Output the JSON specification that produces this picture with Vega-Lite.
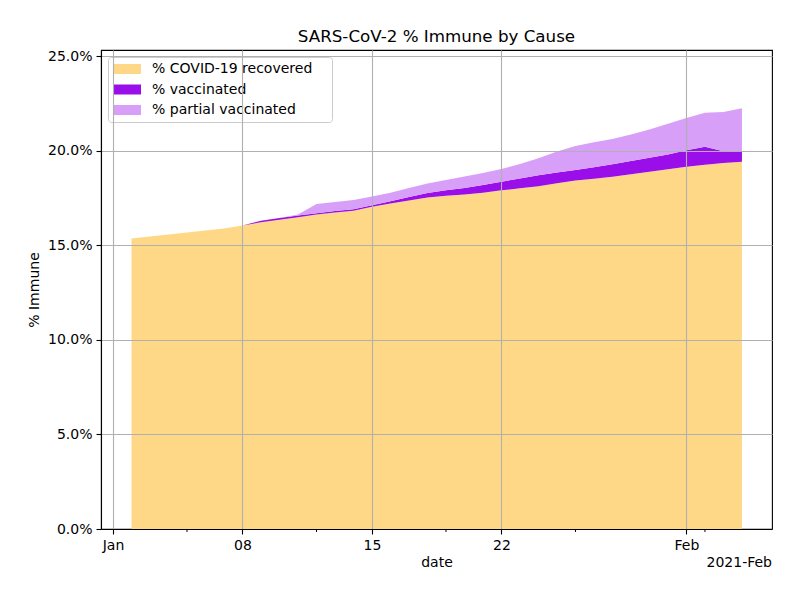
{
  "$schema": "https://vega.github.io/schema/vega-lite/v6.json",
  "width": 671,
  "height": 479,
  "autosize": {"type": "none"},
  "padding": {"left": 101, "top": 50, "right": 28, "bottom": 71},
  "background": "white",
  "config": {
    "font": "DejaVu Sans",
    "view": {"stroke": "black", "strokeWidth": 1.1}
  },
  "title": {
    "text": "SARS-CoV-2 % Immune by Cause",
    "fontSize": 16.7,
    "fontWeight": "normal",
    "color": "black",
    "offset": 3
  },
  "layer": [
    {
      "data": {
        "values": [
          {"date": "2021-01-02", "cause": "% COVID-19 recovered", "pct": 15.36},
          {"date": "2021-01-03", "cause": "% COVID-19 recovered", "pct": 15.46},
          {"date": "2021-01-04", "cause": "% COVID-19 recovered", "pct": 15.57},
          {"date": "2021-01-05", "cause": "% COVID-19 recovered", "pct": 15.67},
          {"date": "2021-01-06", "cause": "% COVID-19 recovered", "pct": 15.78},
          {"date": "2021-01-07", "cause": "% COVID-19 recovered", "pct": 15.88},
          {"date": "2021-01-08", "cause": "% COVID-19 recovered", "pct": 16.04},
          {"date": "2021-01-09", "cause": "% COVID-19 recovered", "pct": 16.21},
          {"date": "2021-01-10", "cause": "% COVID-19 recovered", "pct": 16.35},
          {"date": "2021-01-11", "cause": "% COVID-19 recovered", "pct": 16.48},
          {"date": "2021-01-12", "cause": "% COVID-19 recovered", "pct": 16.62},
          {"date": "2021-01-13", "cause": "% COVID-19 recovered", "pct": 16.73},
          {"date": "2021-01-14", "cause": "% COVID-19 recovered", "pct": 16.82},
          {"date": "2021-01-15", "cause": "% COVID-19 recovered", "pct": 17.03},
          {"date": "2021-01-16", "cause": "% COVID-19 recovered", "pct": 17.21},
          {"date": "2021-01-17", "cause": "% COVID-19 recovered", "pct": 17.37},
          {"date": "2021-01-18", "cause": "% COVID-19 recovered", "pct": 17.52},
          {"date": "2021-01-19", "cause": "% COVID-19 recovered", "pct": 17.62},
          {"date": "2021-01-20", "cause": "% COVID-19 recovered", "pct": 17.68},
          {"date": "2021-01-21", "cause": "% COVID-19 recovered", "pct": 17.77},
          {"date": "2021-01-22", "cause": "% COVID-19 recovered", "pct": 17.90},
          {"date": "2021-01-23", "cause": "% COVID-19 recovered", "pct": 18.01},
          {"date": "2021-01-24", "cause": "% COVID-19 recovered", "pct": 18.12},
          {"date": "2021-01-25", "cause": "% COVID-19 recovered", "pct": 18.28},
          {"date": "2021-01-26", "cause": "% COVID-19 recovered", "pct": 18.42},
          {"date": "2021-01-27", "cause": "% COVID-19 recovered", "pct": 18.52},
          {"date": "2021-01-28", "cause": "% COVID-19 recovered", "pct": 18.62},
          {"date": "2021-01-29", "cause": "% COVID-19 recovered", "pct": 18.75},
          {"date": "2021-01-30", "cause": "% COVID-19 recovered", "pct": 18.88},
          {"date": "2021-01-31", "cause": "% COVID-19 recovered", "pct": 19.01},
          {"date": "2021-02-01", "cause": "% COVID-19 recovered", "pct": 19.15},
          {"date": "2021-02-02", "cause": "% COVID-19 recovered", "pct": 19.25},
          {"date": "2021-02-03", "cause": "% COVID-19 recovered", "pct": 19.35},
          {"date": "2021-02-04", "cause": "% COVID-19 recovered", "pct": 19.41},
          {"date": "2021-01-09", "cause": "% vaccinated", "pct": 0.09},
          {"date": "2021-01-10", "cause": "% vaccinated", "pct": 0.09},
          {"date": "2021-01-11", "cause": "% vaccinated", "pct": 0.09},
          {"date": "2021-01-12", "cause": "% vaccinated", "pct": 0.07},
          {"date": "2021-01-13", "cause": "% vaccinated", "pct": 0.08},
          {"date": "2021-01-14", "cause": "% vaccinated", "pct": 0.08},
          {"date": "2021-01-15", "cause": "% vaccinated", "pct": 0.09},
          {"date": "2021-01-16", "cause": "% vaccinated", "pct": 0.12},
          {"date": "2021-01-17", "cause": "% vaccinated", "pct": 0.18},
          {"date": "2021-01-18", "cause": "% vaccinated", "pct": 0.24},
          {"date": "2021-01-19", "cause": "% vaccinated", "pct": 0.28},
          {"date": "2021-01-20", "cause": "% vaccinated", "pct": 0.34},
          {"date": "2021-01-21", "cause": "% vaccinated", "pct": 0.41},
          {"date": "2021-01-22", "cause": "% vaccinated", "pct": 0.46},
          {"date": "2021-01-23", "cause": "% vaccinated", "pct": 0.52},
          {"date": "2021-01-24", "cause": "% vaccinated", "pct": 0.58},
          {"date": "2021-01-25", "cause": "% vaccinated", "pct": 0.57},
          {"date": "2021-01-26", "cause": "% vaccinated", "pct": 0.56},
          {"date": "2021-01-27", "cause": "% vaccinated", "pct": 0.60},
          {"date": "2021-01-28", "cause": "% vaccinated", "pct": 0.66},
          {"date": "2021-01-29", "cause": "% vaccinated", "pct": 0.70},
          {"date": "2021-01-30", "cause": "% vaccinated", "pct": 0.74},
          {"date": "2021-01-31", "cause": "% vaccinated", "pct": 0.79},
          {"date": "2021-02-01", "cause": "% vaccinated", "pct": 0.87},
          {"date": "2021-02-02", "cause": "% vaccinated", "pct": 0.96},
          {"date": "2021-02-03", "cause": "% vaccinated", "pct": 0.62},
          {"date": "2021-02-04", "cause": "% vaccinated", "pct": 0.56},
          {"date": "2021-01-09", "cause": "% partial vaccinated", "pct": 0.0},
          {"date": "2021-01-10", "cause": "% partial vaccinated", "pct": 0.0},
          {"date": "2021-01-11", "cause": "% partial vaccinated", "pct": 0.05},
          {"date": "2021-01-12", "cause": "% partial vaccinated", "pct": 0.49},
          {"date": "2021-01-13", "cause": "% partial vaccinated", "pct": 0.47},
          {"date": "2021-01-14", "cause": "% partial vaccinated", "pct": 0.49},
          {"date": "2021-01-15", "cause": "% partial vaccinated", "pct": 0.45},
          {"date": "2021-01-16", "cause": "% partial vaccinated", "pct": 0.45},
          {"date": "2021-01-17", "cause": "% partial vaccinated", "pct": 0.47},
          {"date": "2021-01-18", "cause": "% partial vaccinated", "pct": 0.50},
          {"date": "2021-01-19", "cause": "% partial vaccinated", "pct": 0.55},
          {"date": "2021-01-20", "cause": "% partial vaccinated", "pct": 0.61},
          {"date": "2021-01-21", "cause": "% partial vaccinated", "pct": 0.64},
          {"date": "2021-01-22", "cause": "% partial vaccinated", "pct": 0.67},
          {"date": "2021-01-23", "cause": "% partial vaccinated", "pct": 0.77},
          {"date": "2021-01-24", "cause": "% partial vaccinated", "pct": 0.90},
          {"date": "2021-01-25", "cause": "% partial vaccinated", "pct": 1.10},
          {"date": "2021-01-26", "cause": "% partial vaccinated", "pct": 1.27},
          {"date": "2021-01-27", "cause": "% partial vaccinated", "pct": 1.33},
          {"date": "2021-01-28", "cause": "% partial vaccinated", "pct": 1.34},
          {"date": "2021-01-29", "cause": "% partial vaccinated", "pct": 1.40},
          {"date": "2021-01-30", "cause": "% partial vaccinated", "pct": 1.50},
          {"date": "2021-01-31", "cause": "% partial vaccinated", "pct": 1.62},
          {"date": "2021-02-01", "cause": "% partial vaccinated", "pct": 1.70},
          {"date": "2021-02-02", "cause": "% partial vaccinated", "pct": 1.79},
          {"date": "2021-02-03", "cause": "% partial vaccinated", "pct": 2.07},
          {"date": "2021-02-04", "cause": "% partial vaccinated", "pct": 2.27}
        ]
      },
      "transform": [
        {
          "calculate": "indexof(['% COVID-19 recovered', '% vaccinated', '% partial vaccinated'], datum.cause)",
          "as": "stackOrder"
        }
      ],
      "mark": {"type": "area", "opacity": 1},
      "encoding": {
        "x": {
          "field": "date",
          "type": "temporal",
          "title": "date",
          "scale": {
            "type": "utc",
            "domain": [
              {"year": 2020, "month": 12, "date": 31, "hours": 8, "minutes": 25, "utc": true},
              {"year": 2021, "month": 2, "date": 5, "hours": 15, "utc": true}
            ]
          },
          "axis": {
            "values": [
              {"year": 2021, "month": 1, "date": 1, "utc": true},
              {"year": 2021, "month": 1, "date": 8, "utc": true},
              {"year": 2021, "month": 1, "date": 15, "utc": true},
              {"year": 2021, "month": 1, "date": 22, "utc": true},
              {"year": 2021, "month": 2, "date": 1, "utc": true}
            ],
            "labelExpr": "utcdate(datum.value) == 1 ? utcFormat(datum.value, '%b') : utcFormat(datum.value, '%d')",
            "labelFontSize": 14,
            "labelColor": "black",
            "labelPadding": 4,
            "labelFlush": false,
            "labelOverlap": false,
            "tickColor": "black",
            "tickSize": 5,
            "tickWidth": 1.1,
            "domainColor": "black",
            "domainWidth": 1.1,
            "grid": true,
            "gridColor": "#b0b0b0",
            "gridWidth": 1.1,
            "titleFontSize": 14,
            "titleFontWeight": "normal",
            "titleColor": "black",
            "titlePadding": 3,
            "zindex": 1
          }
        },
        "y": {
          "field": "pct",
          "type": "quantitative",
          "stack": "zero",
          "title": "% Immune",
          "scale": {"domain": [0, 25.32], "nice": false},
          "axis": {
            "values": [0, 5, 10, 15, 20, 25],
            "labelExpr": "format(datum.value, '.1f') + '%'",
            "labelFontSize": 14,
            "labelColor": "black",
            "labelPadding": 4,
            "tickColor": "black",
            "tickSize": 5,
            "tickWidth": 1.1,
            "domainColor": "black",
            "domainWidth": 1.1,
            "grid": true,
            "gridColor": "#b0b0b0",
            "gridWidth": 1.1,
            "titleFontSize": 14,
            "titleFontWeight": "normal",
            "titleColor": "black",
            "titlePadding": 6,
            "zindex": 1
          }
        },
        "order": {"field": "stackOrder", "type": "quantitative", "sort": "ascending"},
        "color": {
          "field": "cause",
          "type": "nominal",
          "scale": {
            "domain": ["% COVID-19 recovered", "% vaccinated", "% partial vaccinated"],
            "range": ["#fed886", "#9a0eea", "#d79ff7"]
          },
          "legend": {
            "title": " ",
            "titleOrient": "right",
            "titlePadding": 15,
            "titleFontSize": 14,
            "orient": "none",
            "legendX": 7,
            "legendY": 7,
            "symbolType": "M-1,-0.714H3V0.714H-1Z",
            "symbolSize": 196,
            "symbolStrokeWidth": 0,
            "symbolOpacity": 1,
            "labelFontSize": 14,
            "labelColor": "black",
            "labelOffset": 25,
            "labelLimit": 400,
            "rowPadding": 6.5,
            "padding": 5,
            "strokeColor": "#cccccc",
            "fillColor": "rgba(255,255,255,0.8)",
            "cornerRadius": 3
          }
        }
      }
    },
    {
      "data": {
        "values": [
          {"date": "2021-01-05"},
          {"date": "2021-01-12"},
          {"date": "2021-01-19"},
          {"date": "2021-01-26"},
          {"date": "2021-02-02"}
        ]
      },
      "mark": {"type": "tick", "orient": "vertical", "size": 3, "thickness": 1, "color": "black", "opacity": 1, "yOffset": 1.6},
      "encoding": {
        "x": {"field": "date", "type": "temporal"},
        "y": {"datum": 0, "type": "quantitative"}
      }
    },
    {
      "data": {"values": [{"label": "2021-Feb"}]},
      "mark": {"type": "text", "align": "right", "baseline": "middle", "dy": 34, "fontSize": 14, "color": "black"},
      "encoding": {
        "x": {"datum": {"year": 2021, "month": 2, "date": 5, "hours": 15, "utc": true}, "type": "temporal"},
        "y": {"datum": 0, "type": "quantitative"},
        "text": {"field": "label"}
      }
    }
  ]
}
